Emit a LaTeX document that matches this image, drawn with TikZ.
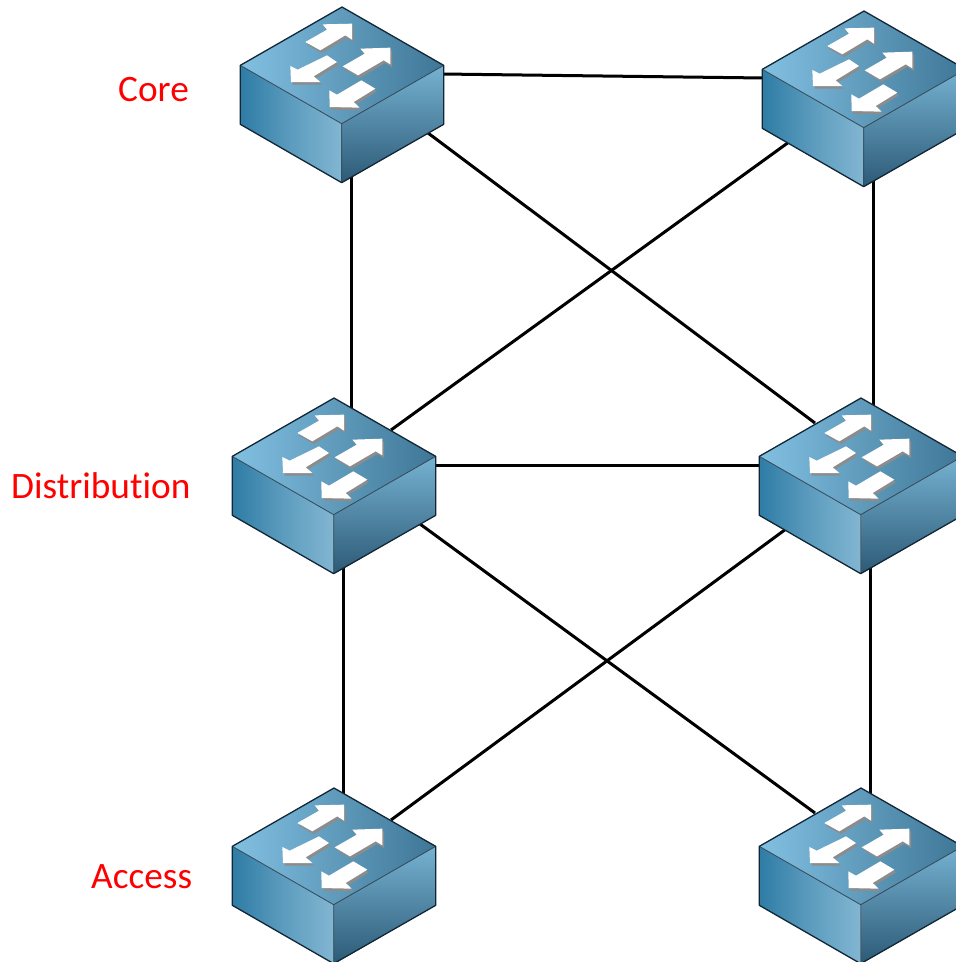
\documentclass[tikz,border=0pt]{standalone}
\usepackage{fontspec}
\setmainfont{Carlito}[Ligatures={NoCommon}]
\usetikzlibrary{backgrounds}
\definecolor{labelred}{RGB}{255,0,0}
\definecolor{topLight}{RGB}{130,192,226}
\definecolor{topDark}{RGB}{62,118,150}
\definecolor{leftDark}{RGB}{46,124,165}
\definecolor{leftLight}{RGB}{130,182,210}
\definecolor{rightLight}{RGB}{118,178,210}
\definecolor{rightDark}{RGB}{44,90,118}
\definecolor{edgeDark}{RGB}{18,38,54}
\definecolor{arrowShadow}{RGB}{140,140,140}
\tikzset{
  link/.style={line width=3pt,black},
  tier/.style={text=labelred,font=\fontsize{37.3}{42}\selectfont,anchor=base west,inner sep=0pt},
  swedge/.style={draw=edgeDark,line width=1.3pt,line join=round},
  swinner/.style={draw=edgeDark!85!white,line width=.8pt,line join=round},
  pics/switchbox/.style={code={
    \coordinate (-e) at (100,67);
    \coordinate (-w) at (-100,67);
    \coordinate (-s) at (9,150);
    \coordinate (-n) at (9,30);
    \coordinate (-se) at (86,126);
    \coordinate (-nw) at (-46,25);
    \coordinate (-sw) at (-75,131);
    \coordinate (-ne) at (57,32);
    \begin{scope}[x=0.33333pt,y=-0.33333pt,shift={(-350,-20)}]
      \shade[shading angle=-35,left color=leftDark,right color=leftLight,middle color=leftDark!45!leftLight]
        (45,195) -- (349,370) -- (349,547) -- (45,372) -- cycle;
      \shade[top color=rightLight,bottom color=rightDark]
        (349,370) -- (655,195) -- (655,372) -- (349,547) -- cycle;
      \shade[shading angle=60,left color=topLight,right color=topDark,middle color=topLight!50!topDark]
        (350,20) -- (655,195) -- (349,370) -- (45,195) -- cycle;
      \draw[swinner] (45,195) -- (349,370) -- (655,195) (349,370) -- (349,547);
      \draw[swedge] (350,20) -- (655,195) -- (655,372) -- (349,547) -- (45,372) -- (45,195) -- cycle;
      \foreach \dx/\dy/\col in {5/8/arrowShadow,0/0/white}{
        \fill[\col,shift={(\dx,\dy)}]
          (240,125) -- (305,88) -- (292,72) -- (380,70) -- (380,118) -- (360,105) -- (285,150) -- cycle;
        \fill[\col,shift={(\dx,\dy)}]
          (352,198) -- (418,160) -- (405,145) -- (495,142) -- (495,192) -- (475,180) -- (398,225) -- cycle;
        \fill[\col,shift={(\dx,\dy)}]
          (305,165) -- (335,185) -- (265,228) -- (285,245) -- (197,245) -- (195,197) -- (217,208) -- cycle;
        \fill[\col,shift={(\dx,\dy)}]
          (408,240) -- (450,265) -- (385,305) -- (403,322) -- (313,320) -- (312,270) -- (335,283) -- cycle;
      }
    \end{scope}
  }}
}
\begin{document}
\begin{tikzpicture}[x=1pt,y=-1pt]
  \useasboundingbox (0,0) rectangle (956,962);
  \clip (0,0) rectangle (956,962);
  \pic (cl) at (342,7) {switchbox};
  \pic (cr) at (864,11) {switchbox};
  \pic (dl) at (334,398) {switchbox};
  \pic (dr) at (861,398) {switchbox};
  \pic (al) at (334,788) {switchbox};
  \pic (ar) at (861,788) {switchbox};
  \begin{pgfonlayer}{background}
    \draw[link] (cl-e) -- (cr-w);
    \draw[link] (dl-e) -- (dr-w);
    \draw[link] (cl-s) -- (cl-s |- dl-n);
    \draw[link] (cr-s) -- (cr-s |- dr-n);
    \draw[link] (dl-s) -- (al-n);
    \draw[link] (dr-s) -- (ar-n);
    \draw[link] (cl-se) -- (dr-nw);
    \draw[link] (cr-sw) -- (dl-ne);
    \draw[link] (dl-se) -- (ar-nw);
    \draw[link] (dr-sw) -- (al-ne);
  \end{pgfonlayer}
  \node[tier] (core) at (118,101) {Core};
  \node[tier] (dist) at (11,498) {Distribution};
  \node[tier] (acc) at (91,888) {Access};
\end{tikzpicture}
\end{document}
